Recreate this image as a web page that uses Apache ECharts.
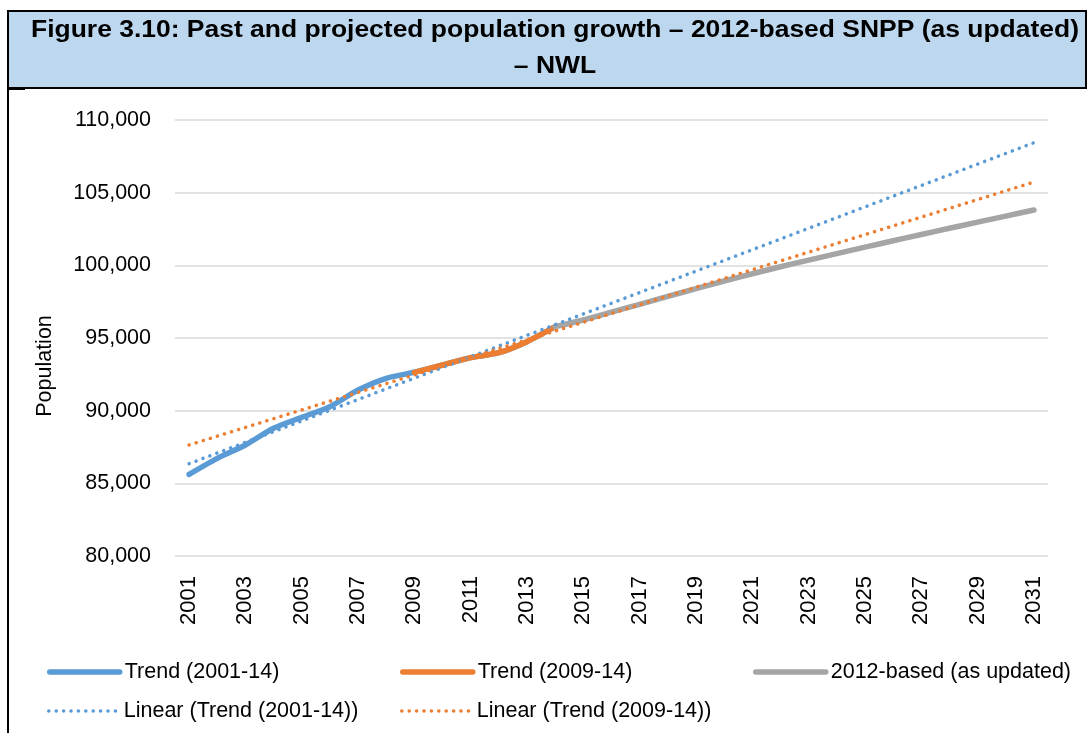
<!DOCTYPE html>
<html>
<head>
<meta charset="utf-8">
<title>Past and projected population growth – NWL</title>
<script src="https://cdn.jsdelivr.net/npm/echarts@6/dist/echarts.min.js"></script>
<style>
  html, body { margin: 0; padding: 0; background: #fff; }
  #chart { width: 1088px; height: 733px; }
</style>
</head>
<body>
<div id="chart"></div>
<script>
// Years on the category axis
const years = [];
for (let y = 2001; y <= 2031; y++) years.push(String(y));

// Past population, trend 2001-14
const trend2001_14 = [85620, 86720, 87640, 88790, 89540, 90270, 91420, 92230, 92640, 93140, 93650, 93990, 94750, 95780];
// Past population, trend 2009-14
const trend2009_14 = [92640, 93140, 93650, 93990, 94750, 95780];
// 2012-based SNPP (as updated), 2014-2031
const snpp2012 = [95780, 96240, 96780, 97320, 97860, 98400, 98920, 99420, 99900, 100360, 100810, 101250, 101690, 102120, 102550, 102970, 103390, 103810];
// Linear trend lines: values at 2001 and 2031
const linear2001_14 = [86350, 108440];
const linear2009_14 = [87640, 105730];

const yTicks = [80000, 85000, 90000, 95000, 100000, 105000, 110000];

// Place a partial series onto the full year axis
function place(startYear, values) {
  const out = years.map(() => null);
  const off = startYear - 2001;
  values.forEach((v, i) => { out[off + i] = v; });
  return out;
}
// Two-point straight line spanning the whole axis
function ends(pair) {
  const out = years.map(() => null);
  out[0] = pair[0];
  out[years.length - 1] = pair[1];
  return out;
}

const FONT = '"Liberation Sans", Arial, sans-serif';
const BLUE = '#5B9BD5', ORANGE = '#ED7D31', GREY = '#A5A5A5';
const dotted = [0.1, 7.3];

const chart = echarts.init(document.getElementById('chart'), null, { renderer: 'canvas' });

function legendAt(name, left, top, width, type) {
  return {
    data: [name], left: left, top: top, padding: 0,
    itemWidth: 70, itemHeight: 14, itemGap: 0,
    textStyle: { fontFamily: FONT, fontSize: 21.5, color: '#000' },
    itemStyle: { opacity: 0 },
    lineStyle: { width: width, cap: 'round', type: type },
    selectedMode: false
  };
}

chart.setOption({
  animation: false,
  backgroundColor: '#fff',
  textStyle: { fontFamily: FONT },
  graphic: [
    { type: 'rect', shape: { x: 8, y: 11, width: 1078, height: 77 },
      style: { fill: '#BDD7EE', stroke: '#000', lineWidth: 2 }, z: 0 },
    { type: 'line', shape: { x1: 8, y1: 88, x2: 8, y2: 733 },
      style: { stroke: '#000', lineWidth: 2 } },
    { type: 'line', shape: { x1: 8, y1: 89, x2: 25, y2: 89 },
      style: { stroke: '#000', lineWidth: 2 } },
    { type: 'text', x: 555, y: 13, scaleX: 1.15, z: 10,
      style: { text: 'Figure 3.10: Past and projected population growth – 2012-based SNPP (as updated)\n– NWL',
        fill: '#000', font: 'bold 23px ' + FONT, align: 'center', verticalAlign: 'top', lineHeight: 36 } },
    { type: 'text', x: 45, y: 366, rotation: Math.PI / 2, z: 10,
      style: { text: 'Population', fill: '#000', font: '21.5px ' + FONT,
        align: 'center', verticalAlign: 'middle' } }
  ],
  grid: { left: 175, right: 40, top: 120, bottom: 177, containLabel: false },
  legend: [
    legendAt('Trend (2001-14)', 47, 661, 5.5, 'solid'),
    legendAt('Trend (2009-14)', 400, 661, 5.5, 'solid'),
    legendAt('2012-based (as updated)', 753, 661, 5.5, 'solid'),
    legendAt('Linear (Trend (2001-14))', 47, 700, 3.5, dotted),
    legendAt('Linear (Trend (2009-14))', 400, 700, 3.5, dotted)
  ],
  xAxis: {
    type: 'category', data: years, boundaryGap: true,
    axisLine: { show: false }, axisTick: { show: false },
    axisLabel: { interval: 1, rotate: 90, margin: 20, fontSize: 22, color: '#000', fontFamily: FONT }
  },
  yAxis: {
    type: 'value', min: 80000, max: 110000, interval: 5000,
    axisLine: { show: false }, axisTick: { show: false },
    splitLine: { lineStyle: { color: '#D9D9D9', width: 1.5 } },
    axisLabel: { margin: 24, fontSize: 21.5, color: '#000', fontFamily: FONT,
      formatter: v => yTicks.includes(v) ? v.toLocaleString('en-GB') : '' }
  },
  series: [
    { name: 'Trend (2001-14)', type: 'line', data: place(2001, trend2001_14),
      symbol: 'none', smooth: 0.25, color: BLUE,
      lineStyle: { width: 5.5, color: BLUE, cap: 'round', join: 'round' }, z: 2 },
    { name: 'Trend (2009-14)', type: 'line', data: place(2009, trend2009_14),
      symbol: 'none', smooth: 0.25, color: ORANGE,
      lineStyle: { width: 5.5, color: ORANGE, cap: 'round', join: 'round' }, z: 3 },
    { name: '2012-based (as updated)', type: 'line', data: place(2014, snpp2012),
      symbol: 'none', smooth: 0.25, color: GREY,
      lineStyle: { width: 5.5, color: GREY, cap: 'round', join: 'round' }, z: 4 },
    { name: 'Linear (Trend (2001-14))', type: 'line', data: ends(linear2001_14),
      connectNulls: true, symbol: 'none', color: BLUE,
      lineStyle: { width: 3.5, color: BLUE, type: dotted, cap: 'round' }, z: 5 },
    { name: 'Linear (Trend (2009-14))', type: 'line', data: ends(linear2009_14),
      connectNulls: true, symbol: 'none', color: ORANGE,
      lineStyle: { width: 3.5, color: ORANGE, type: dotted, cap: 'round' }, z: 6 }
  ]
});
</script>
</body>
</html>
